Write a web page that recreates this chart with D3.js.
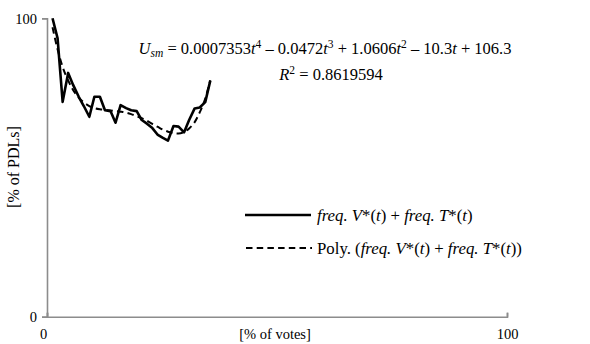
<!DOCTYPE html>
<html><head><meta charset="utf-8">
<script src="https://cdn.jsdelivr.net/npm/d3@7"></script>
<style>
html,body{margin:0;padding:0;background:#fff;}
svg{display:block;font-family:"Liberation Serif","Times New Roman",serif;}
</style></head>
<body>
<svg id="chart" width="590" height="344"></svg>
<script>
// x positions (% of votes) of the observations
const xPct = [1.2,2.3,3.4,4.6,5.7,6.9,8.0,9.2,10.3,11.5,12.6,13.8,14.9,16.0,17.2,18.3,19.5,20.6,21.8,22.9,24.1,25.2,26.3,27.5,28.6,29.8,30.9,32.1,33.2,34.4,35.5];
// freq. V*(t) + freq. T*(t)  [% of PDLs]
const freqSum = [100,93.3,72.0,81.7,77.6,73.7,70.6,67.0,73.7,73.7,69.2,68.9,65.0,70.9,69.9,69.2,68.9,65.9,64.6,63.2,60.9,59.9,59.0,63.9,63.7,61.8,65.9,69.8,70.1,71.9,79.1];
// Poly. trendline
const polyFit = [97.0,89.6,83.7,79.2,75.9,73.4,71.8,70.6,69.9,69.5,69.3,69.1,68.9,68.7,68.4,67.9,67.2,66.5,65.6,64.6,63.6,62.7,62.0,61.5,61.4,61.9,63.1,65.2,68.5,73.1,79.2];
const xTicks = [0,100];
const yTicks = [0,100];

const svg = d3.select("#chart");
const x = d3.scaleLinear().domain([0,100]).range([47,507]);
const y = d3.scaleLinear().domain([0,100]).range([316.7,18.3]);
const axisCol = "#8c8c8c";

// y axis (ticks outside)
const yAx = svg.append("g").attr("transform","translate(47,0)")
  .call(d3.axisLeft(y).tickValues(yTicks).tickSize(5).tickPadding(4));
// x axis (ticks inside)
const xAx = svg.append("g").attr("transform","translate(0,316.7)")
  .call(d3.axisBottom(x).tickValues(xTicks).tickSize(-4).tickPadding(0));
[yAx,xAx].forEach(g=>{
  g.selectAll("path").attr("stroke",axisCol).attr("stroke-width",1.6);
  g.selectAll("line").attr("stroke",axisCol).attr("stroke-width",1.6);
  g.selectAll("text").attr("fill","#000").style("font-size","14.5px")
   .style("font-family","'Liberation Serif',serif");
});
xAx.selectAll("text").attr("dy",null).attr("y",22).attr("x",(d,i)=>i===0?-4:0);
yAx.selectAll("text").attr("x",-10).attr("dy","0.35em");

// axis titles
svg.append("text").attr("x",275).attr("y",339).attr("text-anchor","middle")
  .style("font-size","14.5px").text("[% of votes]");
svg.append("text").attr("transform","translate(19,167) rotate(-90)").attr("text-anchor","middle")
  .style("font-size","16px").text("[% of PDLs]");

const pts = xPct.map((v,i)=>({x:v,a:freqSum[i],p:polyFit[i]}));
const lineA = d3.line().x(d=>x(d.x)).y(d=>y(d.a));
const lineP = d3.line().curve(d3.curveMonotoneX).x(d=>x(d.x)).y(d=>y(d.p));
svg.append("path").datum(pts).attr("d",lineA).attr("fill","none").attr("stroke","#000")
  .attr("stroke-width",2.6).attr("stroke-linejoin","round");
svg.append("path").datum(pts).attr("d",lineP).attr("fill","none").attr("stroke","#000")
  .attr("stroke-width",2).attr("stroke-dasharray","6.5,4.2");

// rich text helper
function rich(t, parts, small){
  parts.forEach(p=>{
    const s = t.append("tspan").text(p[0]);
    if(p[1]&&p[1].includes("i")) s.style("font-style","italic");
    if(p[1]&&p[1].includes("sup")) s.attr("baseline-shift","6px").style("font-size",small);
    if(p[1]&&p[1].includes("sub")) s.attr("baseline-shift","-3px").style("font-size",small);
  });
}
const eq = svg.append("text").attr("x",325).attr("y",54).attr("text-anchor","middle").style("font-size","16.5px");
rich(eq,[["U","i"],["sm","i sub"],[" = 0.0007353"],["t","i"],["4","sup"],[" \u2013 0.0472"],["t","i"],["3","sup"],
  [" + 1.0606"],["t","i"],["2","sup"],[" \u2013 10.3"],["t","i"],[" + 106.3"]],"11.5px");
const r2 = svg.append("text").attr("x",331).attr("y",80).attr("text-anchor","middle").style("font-size","16.5px");
rich(r2,[["R","i"],["2","sup"],[" = 0.8619594"]],"11.5px");

// legend
const lg = svg.append("g");
lg.append("line").attr("x1",245).attr("x2",311).attr("y1",215).attr("y2",215)
  .attr("stroke","#000").attr("stroke-width",2.6);
lg.append("line").attr("x1",246).attr("x2",312).attr("y1",248).attr("y2",248)
  .attr("stroke","#000").attr("stroke-width",2.2).attr("stroke-dasharray","6.5,4.2");
const l1 = lg.append("text").attr("x",317).attr("y",221).style("font-size","16.8px");
rich(l1,[["freq.","i"],[" "],["V","i"],["*("],["t","i"],[") + "],["freq.","i"],[" "],["T","i"],["*("],["t","i"],[")"]],"11px");
const l2 = lg.append("text").attr("x",317).attr("y",254).style("font-size","16.8px");
rich(l2,[["Poly. ("],["freq.","i"],[" "],["V","i"],["*("],["t","i"],[") + "],["freq.","i"],[" "],["T","i"],["*("],["t","i"],["))"]],"11px");
</script>
</body></html>
